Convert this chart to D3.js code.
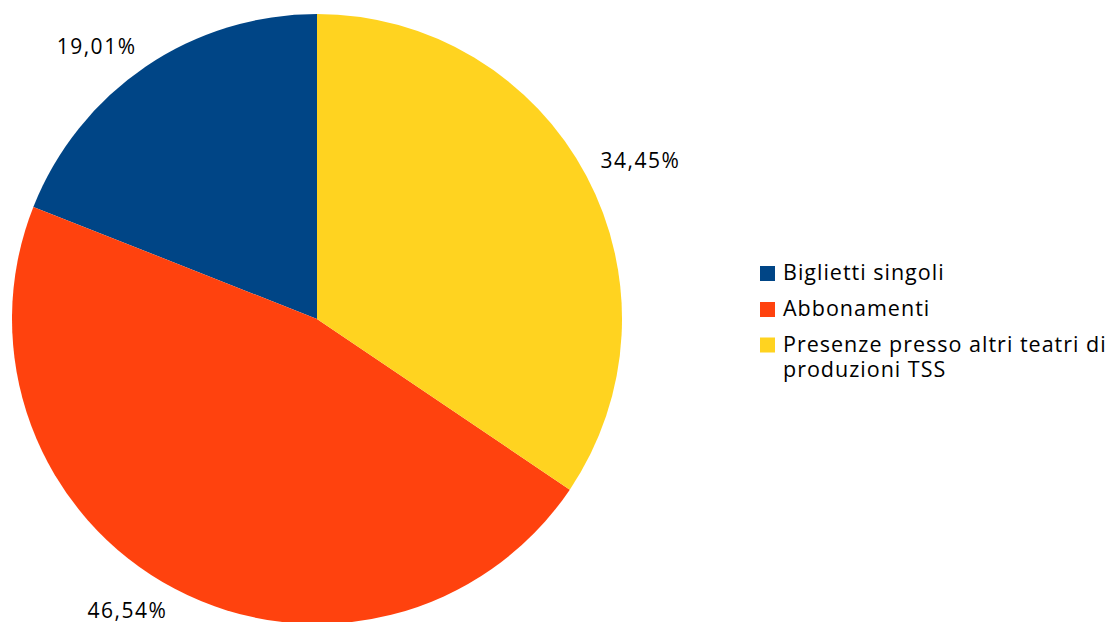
<!DOCTYPE html>
<html>
<head>
<meta charset="utf-8">
<script src="https://cdn.jsdelivr.net/npm/d3@7"></script>
<style>
  html, body { margin: 0; padding: 0; background: #fff; }
  svg { display: block; font-family: "Open Sans", Lato, "Liberation Sans", sans-serif; }
</style>
</head>
<body>
<svg id="chart" width="1111" height="622"></svg>
<script>
// Distribution of attendance by type
const categories = ["Biglietti singoli", "Abbonamenti", "Presenze presso altri teatri di produzioni TSS"];
const values = [19.01, 46.54, 34.45];
const colors = ["#004586", "#ff420e", "#ffd320"];
const valueLabels = ["19,01%", "46,54%", "34,45%"];

const svg = d3.select("#chart");
const cx = 317, cy = 319, radius = 305;

// Slices run counter-clockwise from 12 o'clock in category order
const pie = d3.pie().sort(null).value(d => d)
  .startAngle(0).endAngle(-2 * Math.PI);
const arcs = pie(values);
const arc = d3.arc().innerRadius(0).outerRadius(radius);

const g = svg.append("g").attr("transform", `translate(${cx},${cy})`);
g.selectAll("path").data(arcs).join("path")
  .attr("d", arc)
  .attr("fill", (d, i) => colors[i]);

// Percentage labels: the text box corner nearest the pie sits on the
// slice's mid-angle, just outside the rim
const labelR = radius + 16;
const capH = 15;
g.selectAll("text.val").data(arcs).join("text")
  .attr("class", "val")
  .each(function (d, i) {
    const a = (d.startAngle + d.endAngle) / 2;
    const x = labelR * Math.sin(a), y = -labelR * Math.cos(a);
    d3.select(this)
      .attr("x", x)
      .attr("y", y < 0 ? y : y + capH)
      .attr("text-anchor", x < 0 ? "end" : "start")
      .text(valueLabels[i]);
  })
  .attr("font-size", 21)
  .attr("letter-spacing", 1.5)
  .attr("fill", "#000");

// Legend
const legend = svg.append("g").attr("transform", "translate(760,266)");
const rowY = [0, 36, 71.5];
const item = legend.selectAll("g").data(categories).join("g")
  .attr("transform", (d, i) => `translate(0,${rowY[i]})`);
item.append("rect")
  .attr("width", 15).attr("height", 15)
  .attr("fill", (d, i) => colors[i]);
item.each(function (d) {
  const t = d3.select(this).append("text")
    .attr("x", 23).attr("y", 14)
    .attr("font-size", 21.5)
    .attr("letter-spacing", 1)
    .attr("fill", "#000");
  const lines = d === categories[2]
    ? ["Presenze presso altri teatri di", "produzioni TSS"] : [d];
  lines.forEach((ln, j) => {
    t.append("tspan").attr("x", 23).attr("dy", j === 0 ? 0 : 25.5).text(ln);
  });
});
</script>
</body>
</html>
